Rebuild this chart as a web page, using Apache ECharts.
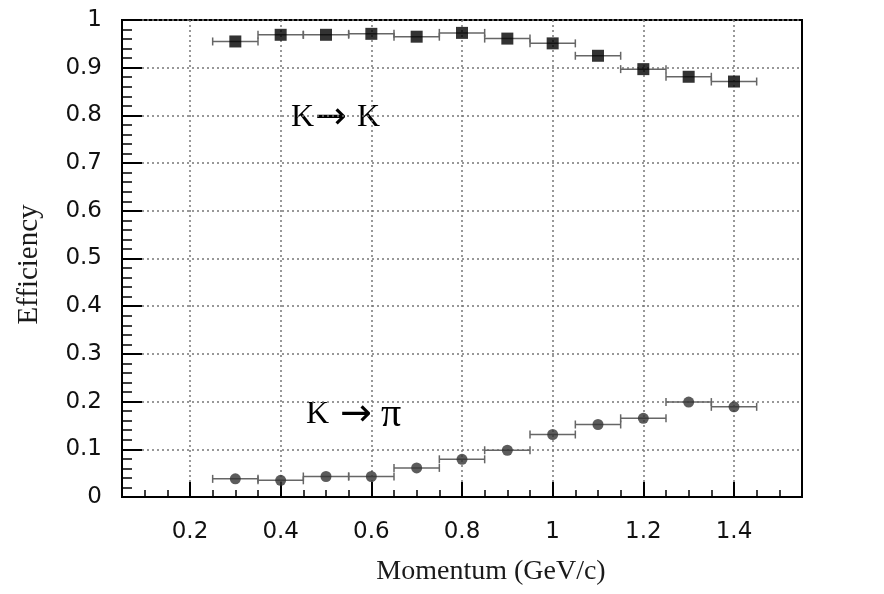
<!DOCTYPE html>
<html>
<head>
<meta charset="utf-8">
<script src="https://cdn.jsdelivr.net/npm/echarts@6/dist/echarts.min.js"></script>
<style>
  html, body { margin: 0; padding: 0; background: #fff; }
  #chart { width: 884px; height: 594px; }
</style>
</head>
<body>
<div id="chart"></div>
<script>
// momentum bin centres (GeV/c) and half bin width
var momentum = [0.3, 0.4, 0.5, 0.6, 0.7, 0.8, 0.9, 1.0, 1.1, 1.2, 1.3, 1.4];
var binHalfWidth = 0.05;
// K -> K efficiency
var effKK = [0.955, 0.969, 0.969, 0.971, 0.965, 0.973, 0.961, 0.951, 0.925, 0.897, 0.881, 0.871];
// K -> pi efficiency
var effKPi = [0.038, 0.035, 0.043, 0.043, 0.061, 0.079, 0.098, 0.131, 0.152, 0.165, 0.199, 0.189];
// tick labels on momentum axis
var xTicks = [0.2, 0.4, 0.6, 0.8, 1.0, 1.2, 1.4];

var myChart = echarts.init(document.getElementById('chart'));

function pairs(ys) {
    return momentum.map(function (x, i) { return [x, ys[i]]; });
}

// horizontal error bars with small caps
function renderErrBar(params, api) {
    var x = api.value(0), y = api.value(1);
    var p1 = api.coord([x - binHalfWidth, y]);
    var p2 = api.coord([x + binHalfWidth, y]);
    var st = { stroke: '#666', lineWidth: 1.5 };
    return {
        type: 'group',
        children: [
            { type: 'line', shape: { x1: p1[0], y1: p1[1], x2: p2[0], y2: p2[1] }, style: st },
            { type: 'line', shape: { x1: p1[0], y1: p1[1] - 4, x2: p1[0], y2: p1[1] + 4 }, style: st },
            { type: 'line', shape: { x1: p2[0], y1: p2[1] - 4, x2: p2[0], y2: p2[1] + 4 }, style: st }
        ]
    };
}

var serif = '"Liberation Serif", "DejaVu Serif", serif';
var sans = '"DejaVu Sans", "Noto Sans", sans-serif';

var richLabel = {
    k: { fontFamily: serif, fontSize: 32, color: '#111' },
    a: { fontFamily: '"DejaVu Sans"', fontSize: 38, color: '#111', padding: [0, 10, 0, 1] },
    a2: { fontFamily: '"DejaVu Sans"', fontSize: 38, color: '#111', padding: [0, 9, 0, 11] },
    p: { fontFamily: serif, fontSize: 40, color: '#111' }
};

var option = {
    animation: false,
    grid: {
        left: 122, top: 20, right: 82, bottom: 97,
        show: true, borderColor: '#000', borderWidth: 2
    },
    xAxis: [
        {
            type: 'value', min: 0.05, max: 1.55,
            name: 'Momentum (GeV/c)', nameLocation: 'middle', nameGap: 61,
            nameTextStyle: { fontFamily: serif, fontSize: 28, color: '#1a1a1a', padding: [0, 0, 0, 58] },
            axisLine: { show: true, lineStyle: { color: '#000', width: 2 } },
            axisTick: { show: true, inside: true, length: 15, customValues: xTicks, lineStyle: { color: '#000', width: 2 } },
            axisLabel: { customValues: xTicks, margin: 24, fontFamily: sans, fontSize: 23, color: '#111' },
            splitLine: { show: true, lineStyle: { color: '#777', type: [2, 3], width: 1.5 } }
        },
        {
            // minor ticks every 0.05
            type: 'value', min: 0.05, max: 1.55, interval: 0.05, position: 'bottom',
            axisLine: { show: false },
            axisTick: { show: true, inside: true, length: 7, lineStyle: { color: '#000', width: 1.5 } },
            axisLabel: { show: false },
            splitLine: { show: false }
        }
    ],
    yAxis: {
        type: 'value', min: 0, max: 1, interval: 0.1,
        name: 'Efficiency', nameLocation: 'middle', nameGap: 78,
        nameTextStyle: { fontFamily: serif, fontSize: 29, color: '#1a1a1a', padding: [0, 12, 0, 0] },
        axisLine: { show: true, lineStyle: { color: '#000', width: 2 } },
        axisTick: { show: true, inside: true, length: 20, lineStyle: { color: '#000', width: 2 } },
        minorTick: { show: true, splitNumber: 5, length: 10, lineStyle: { color: '#000', width: 1.5 } },
        axisLabel: { margin: 20, fontFamily: sans, fontSize: 23, color: '#111' },
        splitLine: { show: true, lineStyle: { color: '#777', type: [2, 3], width: 1.5 } }
    },
    graphic: [
        { type: 'text', left: 291, top: 99, style: { text: '{k|K}{a|\u2192}{k|K}', rich: richLabel } },
        { type: 'text', left: 306, top: 395, style: { text: '{k|K}{a2|\u2192}{p|\u03c0}', rich: richLabel } }
    ],
    series: [
        { type: 'custom', xAxisIndex: 0, renderItem: renderErrBar, data: pairs(effKK), z: 2 },
        { type: 'custom', xAxisIndex: 0, renderItem: renderErrBar, data: pairs(effKPi), z: 2 },
        {
            name: 'K->K', type: 'scatter', xAxisIndex: 0, symbol: 'rect', symbolSize: 12,
            itemStyle: { color: '#000' }, data: pairs(effKK), z: 3
        },
        {
            name: 'K->pi', type: 'scatter', xAxisIndex: 0, symbol: 'circle', symbolSize: 11,
            itemStyle: { color: '#333' }, data: pairs(effKPi), z: 3
        }
    ]
};

myChart.setOption(option);
</script>
</body>
</html>
